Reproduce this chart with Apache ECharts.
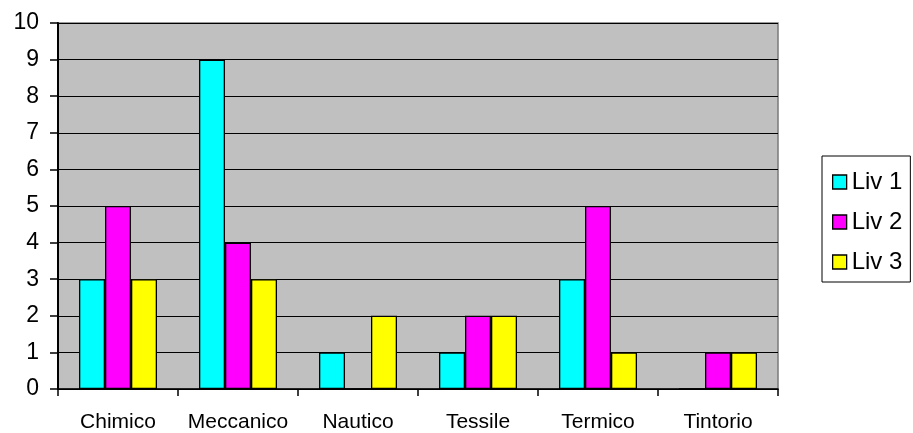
<!DOCTYPE html>
<html>
<head>
<meta charset="utf-8">
<script src="https://cdn.jsdelivr.net/npm/echarts@6/dist/echarts.min.js"></script>
<style>
html,body{margin:0;padding:0;background:#fff;}
#chart{width:913px;height:433px;}
</style>
</head>
<body>
<div id="chart"></div>
<script>
var categories = ['Chimico', 'Meccanico', 'Nautico', 'Tessile', 'Termico', 'Tintorio'];
var liv1 = [3, 9, 1, 1, 3, 0];
var liv2 = [5, 4, 0, 2, 5, 1];
var liv3 = [3, 3, 2, 2, 1, 1];
var seriesNames = ['Liv 1', 'Liv 2', 'Liv 3'];
var yTicks = [0, 1, 2, 3, 4, 5, 6, 7, 8, 9, 10];

var chart = echarts.init(document.getElementById('chart'), null, {renderer: 'canvas'});
var font = 'Arial, "Liberation Sans", sans-serif';
function bar(name, data, color) {
  return {
    name: name, type: 'bar', data: data, barWidth: 26, barGap: '0%',
    itemStyle: {color: color, borderColor: '#000', borderWidth: 1.3},
    emphasis: {disabled: true}
  };
}
chart.setOption({
  animation: false,
  backgroundColor: '#fff',
  grid: {
    left: 58, right: 135, top: 23, bottom: 43,
    show: true, backgroundColor: '#C0C0C0', borderColor: '#7a7a7a', borderWidth: 1.5
  },
  legend: {
    orient: 'vertical', left: 822, top: 156,
    padding: [14, 8, 8, 10],
    itemWidth: 14, itemHeight: 14, itemGap: 16,
    borderColor: '#000', borderWidth: 1, backgroundColor: '#fff',
    textStyle: {fontFamily: font, fontSize: 24, color: '#000'},
    icon: 'rect',
    itemStyle: {borderColor: '#000', borderWidth: 1.3},
    data: seriesNames
  },
  xAxis: {
    type: 'category', data: categories,
    axisLine: {lineStyle: {color: '#000', width: 1.5}},
    axisTick: {show: true, length: 7, lineStyle: {color: '#000', width: 1.5}},
    axisLabel: {fontFamily: font, fontSize: 21, color: '#000', margin: 23, interval: 0},
    splitLine: {show: false}
  },
  yAxis: {
    type: 'value', min: yTicks[0], max: yTicks[yTicks.length - 1], interval: 1,
    axisLine: {show: true, lineStyle: {color: '#000', width: 2}},
    axisTick: {show: true, length: 8, lineStyle: {color: '#000', width: 1.5}},
    axisLabel: {fontFamily: font, fontSize: 23, color: '#000', margin: 19},
    splitLine: {show: true, lineStyle: {color: '#000', width: 1.2}}
  },
  series: [
    bar(seriesNames[0], liv1, '#00FFFF'),
    bar(seriesNames[1], liv2, '#FF00FF'),
    bar(seriesNames[2], liv3, '#FFFF00')
  ]
});
</script>
</body>
</html>
